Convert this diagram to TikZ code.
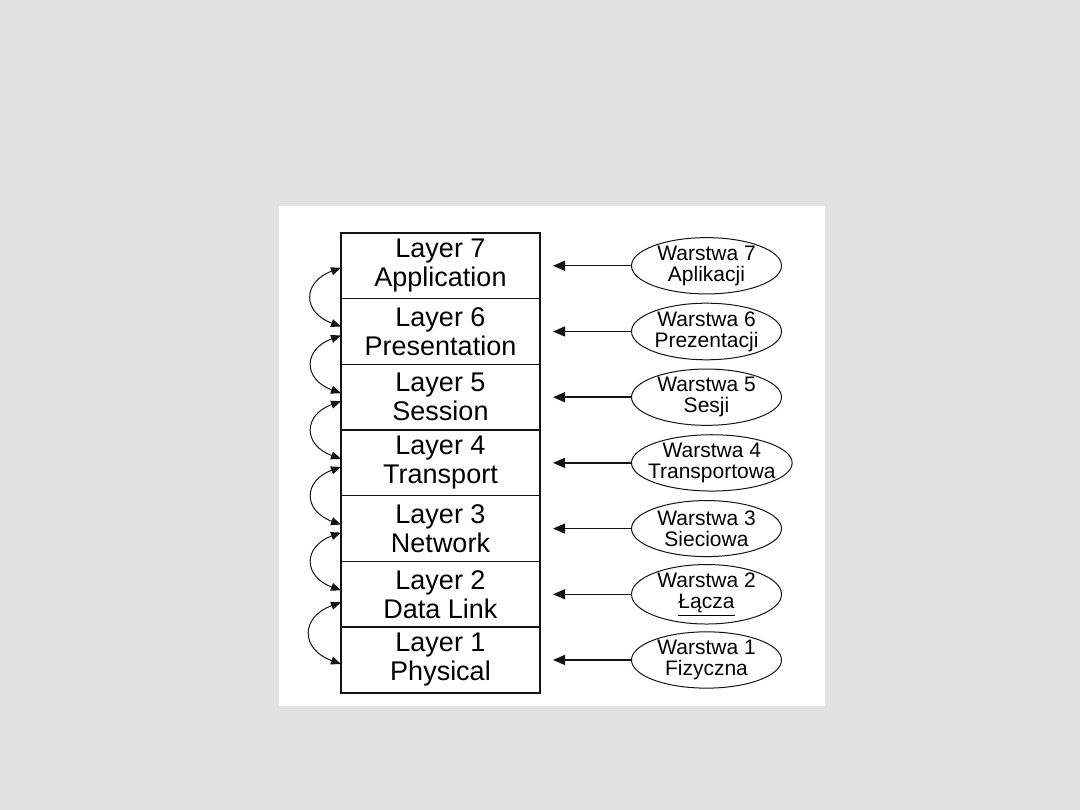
\documentclass[tikz,border=0pt]{standalone}
\usepackage{fontspec}
\setmainfont{Liberation Sans}
\usepackage{xcolor}
\usetikzlibrary{arrows.meta,positioning,shapes.geometric}
\definecolor{osiBack}{RGB}{226,226,226}
\definecolor{osiPaper}{RGB}{255,255,255}
\definecolor{osiInk}{RGB}{20,20,20}
\tikzset{
  layerbox/.style={draw=osiInk,line width=1.4pt,minimum width=199pt,minimum height=65.7pt,
    inner sep=0pt,outer sep=0pt,align=center,font=\fontsize{27}{29}\selectfont},
  plnode/.style={ellipse,draw=osiInk,line width=1pt,minimum width=150pt,minimum height=56pt,
    inner xsep=-7pt,inner ysep=0pt,align=center,font=\fontsize{21}{21}\selectfont},
  tolayer/.style={draw=osiInk,line width=1.4pt,-{Triangle[length=12pt,width=10pt]},shorten >=13pt},
  peer/.style={draw=osiInk,line width=1pt,{Triangle[length=10pt,width=8pt]}-{Triangle[length=10pt,width=8pt]}}
}

\begin{document}
\begin{tikzpicture}[x=1pt,y=1pt]
  \useasboundingbox (0,0) rectangle (1080,810);
  \fill[osiBack] (0,0) rectangle (1080,810);
  \fill[osiPaper] (279,104) rectangle (825,604);

  % layers
  \node[layerbox] (L1) at (440.5,150) {Layer 1\\Physical};
  \node[layerbox,above=0pt of L1] (L2) {Layer 2\\Data Link};
  \node[layerbox,above=0pt of L2] (L3) {Layer 3\\Network};
  \node[layerbox,above=0pt of L3] (L4) {Layer 4\\Transport};
  \node[layerbox,above=0pt of L4] (L5) {Layer 5\\Session};
  \node[layerbox,above=0pt of L5] (L6) {Layer 6\\Presentation};
  \node[layerbox,above=0pt of L6] (L7) {Layer 7\\Application};

  % polish names
  \node[plnode,right=91pt of L7] (W7) {Warstwa 7\\Aplikacji};
  \node[plnode,right=91pt of L6] (W6) {Warstwa 6\\Prezentacji};
  \node[plnode,right=91pt of L5] (W5) {Warstwa 5\\Sesji};
  \node[plnode,right=91pt of L4] (W4) {Warstwa 4\\Transportowa};
  \node[plnode,right=91pt of L3] (W3) {Warstwa 3\\Sieciowa};
  \node[plnode,right=91pt of L2] (W2) {Warstwa 2\\\underline{Łącza}};
  \node[plnode,right=91pt of L1] (W1) {Warstwa 1\\Fizyczna};

  \draw[tolayer] (W7) -- (L7);
  \draw[tolayer] (W6) -- (L6);
  \draw[tolayer] (W5) -- (L5);
  \draw[tolayer] (W4) -- (L4);
  \draw[tolayer] (W3) -- (L3);
  \draw[tolayer] (W2) -- (L2);
  \draw[tolayer] (W1) -- (L1);

  % peer arcs on the left
  \draw[peer] ([yshift=-2pt]L7.west) to[out=200,in=160,looseness=1.8] ([yshift=5pt]L6.west);
  \draw[peer] ([yshift=-4pt]L6.west) to[out=200,in=160,looseness=1.8] ([yshift=4pt]L5.west);
  \draw[peer] ([yshift=-4pt]L5.west) to[out=200,in=160,looseness=1.8] ([yshift=4pt]L4.west);
  \draw[peer] ([yshift=-4pt]L4.west) to[out=200,in=160,looseness=1.8] ([yshift=4pt]L3.west);
  \draw[peer] ([yshift=-4pt]L3.west) to[out=200,in=160,looseness=1.8] ([yshift=4pt]L2.west);
  \draw[peer] ([yshift=-8pt]L2.west) to[out=200,in=160,looseness=1.8] ([yshift=-4pt]L1.west);
\end{tikzpicture}
\end{document}
